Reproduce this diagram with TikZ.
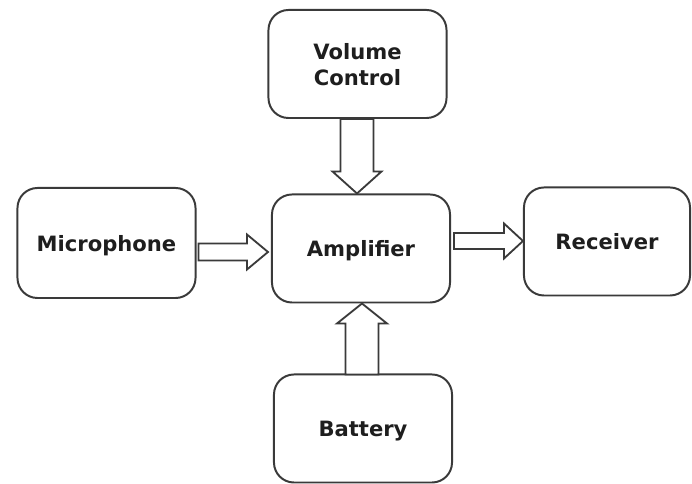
\documentclass[tikz,border=0pt]{standalone}
\usepackage{fontspec}
\setmainfont{DejaVu Sans}
\usetikzlibrary{calc}

\definecolor{boxline}{HTML}{3A3A3A}
\definecolor{boxtext}{HTML}{1E1E1E}

% hollow block arrow: tail, tip, shaft half width, head half width, head length (px)
\newcommand{\blockarrow}[5]{%
  \pgfmathsetlengthmacro\shh{#3*0.025cm}%
  \pgfmathsetlengthmacro\hdh{#4*0.025cm}%
  \pgfmathsetlengthmacro\hdl{#5*0.025cm}%
  \coordinate (neck) at ($(#2)!\hdl!(#1)$);
  \draw[fat] ($(#1)!\shh!90:(#2)$) -- ($(neck)!\shh!90:(#2)$) -- ($(neck)!\hdh!90:(#2)$)
    -- (#2) -- ($(neck)!\hdh!270:(#2)$) -- ($(neck)!\shh!270:(#2)$) -- ($(#1)!\shh!270:(#2)$) -- cycle;
}

\begin{document}
\begin{tikzpicture}[
  x=0.025cm, y=-0.025cm,
  blk/.style={draw=boxline,line width=1.4pt,rounded corners=0.5cm,fill=white,
    minimum width=4.45cm,minimum height=2.7cm,align=center,text=boxtext,text depth=0pt,
    font=\fontsize{15}{18.5}\selectfont\bfseries},
  fat/.style={draw=boxline,line width=1.3pt,fill=white,line join=miter}
]
\useasboundingbox (0,0) rectangle (692,484);

\node[blk] (vol) at (357.5,64) {Volume\\Control};
\node[blk] (amp) at (361,248.5) {Amplifier};
\node[blk,minimum height=2.75cm] (mic) at (106.5,243) {Microphone};
\node[blk,minimum width=4.15cm] (rec) at (607,241.5) {Receiver};
\node[blk] (bat) at (363,428.5) {Battery};

\coordinate (m0) at ($(mic.east)+(2,9)$);
\coordinate (m1) at ($(amp.west)+(-3,3.5)$);
\coordinate (a0) at ($(amp.east)+(3,-7.5)$);
\coordinate (a1) at (rec.west |- a0);
\coordinate (v0) at ($(vol.south)+(-0.5,0)$);
\coordinate (v1) at (amp.north -| v0);
\coordinate (b0) at ($(bat.north)+(-1,1)$);
\coordinate (b1) at (amp.south -| b0);

\blockarrow{m0}{m1}{8.5}{17.5}{21}
\blockarrow{a0}{a1}{8}{17.5}{19}
\blockarrow{v0}{v1}{16.5}{24.5}{22}
\blockarrow{b0}{b1}{16.5}{25}{20}
\end{tikzpicture}
\end{document}
